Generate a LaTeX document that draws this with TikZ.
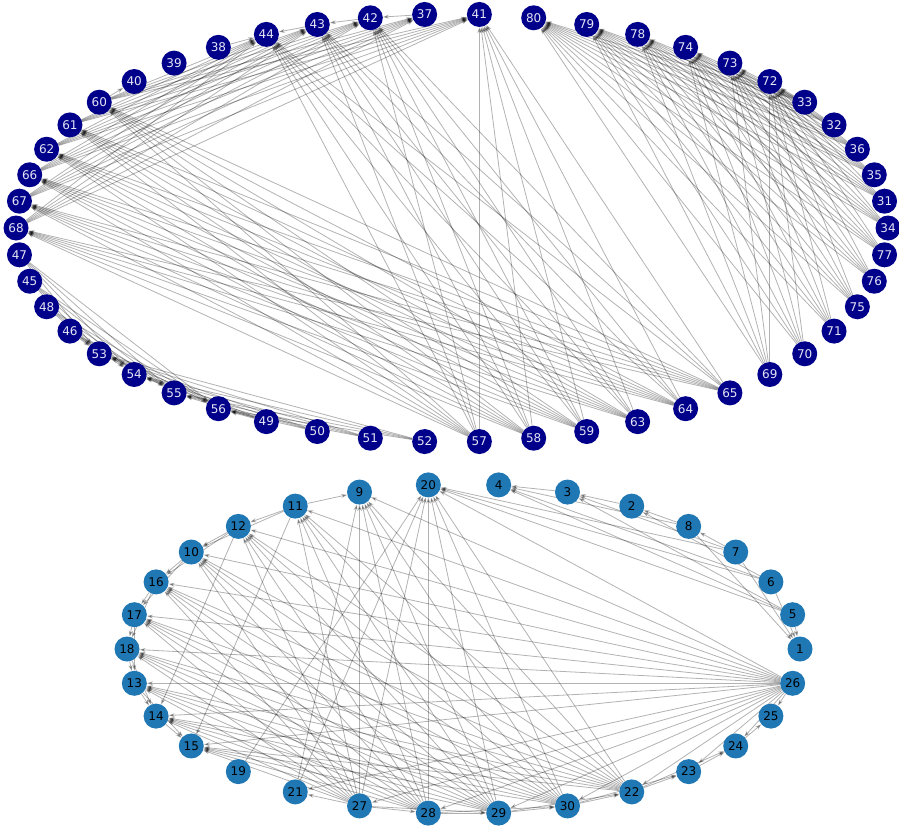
\documentclass[tikz,border=0pt]{standalone}
\usepackage{fontspec}
\setmainfont{DejaVu Sans}
\usetikzlibrary{arrows.meta,backgrounds}
\definecolor{navy}{HTML}{00008B}
\definecolor{mplblue}{HTML}{1F77B4}
\tikzset{
  topnode/.style={circle, fill=navy, text=white!90!navy, inner sep=0pt, minimum size=25pt, font=\fontsize{12}{13}\selectfont},
  botnode/.style={circle, fill=mplblue, text=black, inner sep=0pt, minimum size=25pt, font=\fontsize{12}{13}\selectfont},
  link/.style={draw=black, opacity=0.3, line width=0.8pt, -{Stealth[length=6pt,width=4pt]}},
}
\begin{document}
\begin{tikzpicture}[x=1pt,y=-1pt]
  \useasboundingbox (0,0) rectangle (899,827);

  % upper graph, 50 nodes on an ellipse
  \foreach \n [count=\i from 0] in {34,31,35,36,32,33,72,73,74,78,79,80,41,37,42,43,44,38,39,40,60,61,62,66,67,68,47,45,48,46,53,54,55,56,49,50,51,52,57,58,59,63,64,65,69,70,71,75,76,77}
    \node[topnode] (t\n) at ({452+436*cos(7.2*\i)},{228-214*sin(7.2*\i)}) {\n};

  % lower graph, 30 nodes on an ellipse
  \foreach \n [count=\i from 0] in {1,5,6,7,8,2,3,4,20,9,11,12,10,16,17,18,13,14,15,19,21,27,28,29,30,22,23,24,25,26}
    \node[botnode] (b\n) at ({463.5+336.5*cos(12*\i)},{649-165*sin(12*\i)}) {\n};

  \begin{scope}[on background layer]
    % upper graph edges
    \foreach \s in {57,58,59,63,64,65}
      \foreach \t in {41,42,43,44,60,61,62,66,67,68}
        \draw[link] (t\s) -- (t\t);
    \foreach \s in {60,61,62,66,67,68}
      \foreach \t in {41,37,42,43,44}
        \draw[link] (t\s) -- (t\t);
    \foreach \s in {52,51,50,49}
      \foreach \t in {56,55,54,53}
        \draw[link] (t\s) -- (t\t);
    \foreach \s in {47,45,48,46}
      \foreach \t in {53,54,55,56}
        \draw[link] (t\s) -- (t\t);
    \foreach \s in {69,70,71,75,76,77,34,31,35,36,32,33}
      \foreach \t in {80,79,78,74,73,72}
        \draw[link] (t\s) -- (t\t);
    \foreach \s/\t in {37/42,42/43,43/44,38/44,60/40}
      \draw[link] (t\s) -- (t\t);

    % lower graph edges
    \foreach \t in {25,24,23,22,30,29,28,27,21,15,14,13,18,17,16,10,12,11,9,20}
      \draw[link] (b26) -- (b\t);
    \foreach \s in {27,28,29,30,22}
      \foreach \t in {9,20,11,12,10,16,17,18,13,14,15}
        \draw[link] (b\s) -- (b\t);
    \foreach \s/\t in {27/21,27/28,28/29,29/30,30/22,22/23,23/24,24/25,27/29,28/30,29/22,30/23,22/24,
                       19/20,21/20,21/9,11/9,11/12,12/10,10/16,16/17,17/18,18/13,13/14,14/15,
                       11/10,12/16,10/17,16/18,17/13,18/14,13/15,11/15,12/14,
                       5/1,6/1,7/1,8/1,7/8,8/2,2/3,3/4,6/2,7/3,8/4,6/4,5/3,5/20,6/20,7/20,5/4}
      \draw[link] (b\s) -- (b\t);
  \end{scope}
\end{tikzpicture}
\end{document}
